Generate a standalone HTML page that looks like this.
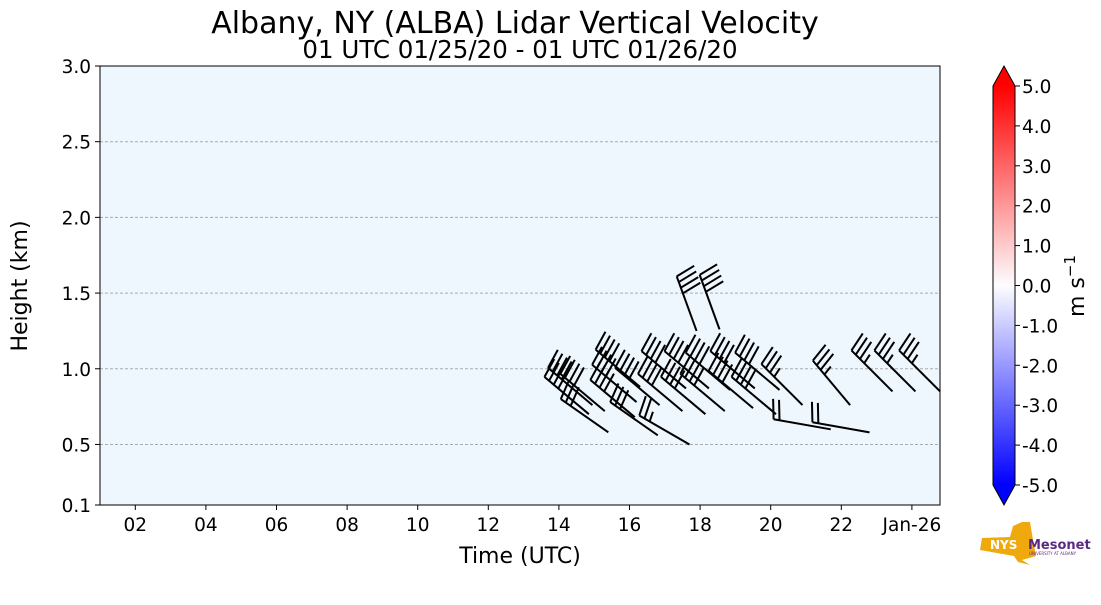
<!DOCTYPE html>
<html><head><meta charset="utf-8"><style>
body{margin:0;background:#fff;width:1101px;height:600px;overflow:hidden;font-family:"Liberation Sans","DejaVu Sans",sans-serif}
svg text{font-family:"DejaVu Sans","Liberation Sans",sans-serif}
</style></head><body>
<svg id="chart" width="1101" height="600">
<defs>
<linearGradient id="cbg" x1="0" y1="1" x2="0" y2="0">
<stop offset="0" stop-color="#0000ff"/><stop offset="0.5" stop-color="#fdfdff"/><stop offset="1" stop-color="#ff0000"/>
</linearGradient>
</defs>
<text x="515" y="33" font-size="30" text-anchor="middle">Albany, NY (ALBA) Lidar Vertical Velocity</text>
<text x="520" y="58" font-size="24.5" text-anchor="middle">01 UTC 01/25/20 - 01 UTC 01/26/20</text>
<rect x="100" y="66" width="840" height="439" fill="#eef6fe"/>
<g id="grid"></g>
<g id="barbs"></g>
<rect x="100" y="66" width="840" height="439" fill="none" stroke="#000" stroke-width="1"/>
<g id="xticks"></g><g id="yticks"></g>
<text x="520" y="563" font-size="22" text-anchor="middle">Time (UTC)</text>
<text transform="translate(27,286) rotate(-90)" font-size="22" text-anchor="middle">Height (km)</text>
<g>
<rect x="993" y="86" width="22" height="399" fill="url(#cbg)"/>
<polygon points="993,86 1004,66 1015,86" fill="#ff0000"/>
<polygon points="993,485 1004,505 1015,485" fill="#0000ff"/>
<polygon points="993,86 1004,66 1015,86 1015,485 1004,505 993,485" fill="none" stroke="#000" stroke-width="1"/>
</g>
<g id="cbticks"></g>
<text transform="translate(1084,286) rotate(-90)" font-size="22" text-anchor="middle">m s<tspan dy="-9" font-size="15">−1</tspan></text>
<g>
<polygon points="982,538 1010,537 1013,526 1022,522 1030,522 1033,540 1036,556 1022,560 1030,565 1018,562 1014,556 980,550" fill="#f0a90c"/>
<text x="990" y="549" font-size="12" font-weight="bold" fill="#fff" font-family="Liberation Sans">NYS</text>
<text x="1028" y="549" font-size="13" font-weight="bold" fill="#5b2a83" font-family="Liberation Sans">Mesonet</text>
<text x="1029" y="555" font-size="4" fill="#5b2a83" font-family="Liberation Sans">UNIVERSITY AT ALBANY</text>
</g>
</svg>
<script>
const xTickHours=[2,4,6,8,10,12,14,16,18,20,22,24];
const xTickLabels=["02","04","06","08","10","12","14","16","18","20","22","Jan-26"];
const yTicks=[0.1,0.5,1.0,1.5,2.0,2.5,3.0];
const yTickLabels=["0.1","0.5","1.0","1.5","2.0","2.5","3.0"];
const cbTicks=[5,4,3,2,1,0,-1,-2,-3,-4,-5];
const cbTickLabels=["5.0","4.0","3.0","2.0","1.0","0.0","-1.0","-2.0","-3.0","-4.0","-5.0"];
const barbTime=[14.95,14.85,15.3,16.3,16.2,16.85,16.15,17.6,17.5,18.25,18.15,18.85,18.7,19.55,19.5,20.25,20.15,20.9,22.25,23.45,24.1,24.8,17.9,18.55,15.4,16.8,17.7,21.7,22.8];
const barbHeight=[0.76,0.70,0.72,0.88,0.78,0.76,0.68,0.87,0.72,0.87,0.70,0.86,0.72,0.87,0.74,0.86,0.70,0.76,0.76,0.85,0.85,0.85,1.25,1.26,0.58,0.56,0.50,0.60,0.58];
const barbSpeed=[40,40,40,40,40,40,40,40,40,40,40,40,40,40,40,40,40,35,35,35,35,35,40,40,30,30,25,20,20];
const barbDir=[310,310,310,310,310,310,310,310,310,310,310,310,310,310,310,310,310,315,320,315,315,315,340,340,305,305,300,280,280];
const NS="http://www.w3.org/2000/svg";
const X0=100,X1=940,Y0=505,Y1=66;
function xS(h){return X0+(h-1)*35.3;}
function yS(k){return Y0-(k-0.1)*(Y0-Y1)/2.9;}
function cS(v){return 285.5-v*39.9;}
function mk(tag,attrs,parent){const e=document.createElementNS(NS,tag);for(const k in attrs)e.setAttribute(k,attrs[k]);parent.appendChild(e);return e;}
const grid=document.getElementById('grid'),xt=document.getElementById('xticks'),yt=document.getElementById('yticks'),cbt=document.getElementById('cbticks'),bg=document.getElementById('barbs');
yTicks.forEach((v,i)=>{
  const y=yS(v);
  if(v>0.1&&v<3.0){const g=mk('line',{x1:X0,x2:X1,y1:y,y2:y,stroke:'#aaa','stroke-dasharray':'3,2','stroke-width':1},grid);
  
  }
  const t=mk('line',{x1:X0-5,x2:X0,y1:y,y2:y,stroke:'#000'},yt);
  
  
  const l=mk('text',{x:X0-9,y:y+7,'font-size':18.5,'text-anchor':'end'},yt);l.textContent=yTickLabels[i];
  
  
});
xTickHours.forEach((h,i)=>{
  const x=xS(h);
  const t=mk('line',{x1:x,x2:x,y1:Y0,y2:Y0+5,stroke:'#000'},xt);
  
  
  const l=mk('text',{x:x,y:Y0+26,'font-size':18.5,'text-anchor':'middle'},xt);l.textContent=xTickLabels[i];
  
  
});
cbTicks.forEach((v,i)=>{
  const y=cS(v);
  const t=mk('line',{x1:1015,x2:1020,y1:y,y2:y,stroke:'#000'},cbt);
  
  
  const l=mk('text',{x:1022,y:y+7,'font-size':18.5},cbt);l.textContent=cbTickLabels[i];
  
  
});
barbTime.forEach((t,i)=>{
  const px=xS(t),py=yS(barbHeight[i]);
  const a=barbDir[i]*Math.PI/180,L=58;
  const ux=Math.sin(a),uy=-Math.cos(a);
  const ex=px+ux*L,ey=py+uy*L;
  const g=mk('g',{stroke:'#000','stroke-width':2,fill:'none'},bg);
  
  
  mk('line',{x1:px,y1:py,x2:ex,y2:ey},g);
  const px2=-uy,py2=ux;
  let s=barbSpeed[i],k=0;
  const full=Math.floor(s/10),half=(s%10)>=5?1:0;
  for(let f=0;f<full;f++){
    const bx=ex-ux*k*6,by=ey-uy*k*6;
    mk('line',{x1:bx,y1:by,x2:bx+px2*20+ux*4,y2:by+py2*20+uy*4},g);k++;
  }
  if(half){const bx=ex-ux*k*6,by=ey-uy*k*6;mk('line',{x1:bx,y1:by,x2:bx+px2*10+ux*2,y2:by+py2*10+uy*2},g);}
});
</script>
</body></html>
